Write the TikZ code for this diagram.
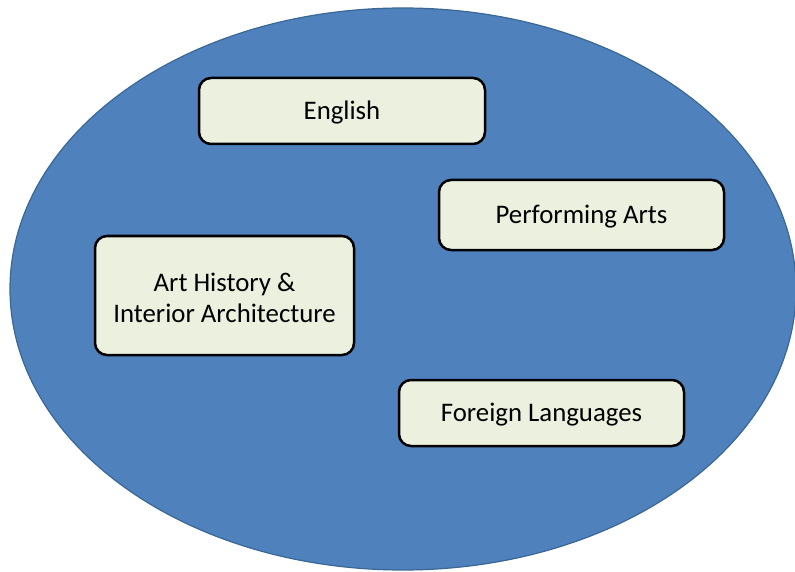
\documentclass[tikz,border=0pt]{standalone}
\usepackage{fontspec}
\setmainfont{Carlito}
\usetikzlibrary{shapes.geometric}
\definecolor{ellfill}{HTML}{4F81BD}
\definecolor{elldraw}{HTML}{3B6795}
\definecolor{boxfill}{HTML}{EBF1DE}
\begin{document}
\begin{tikzpicture}[x=1pt,y=-1pt,
  subject/.style={draw=black,line width=2.5pt,fill=boxfill,rounded corners=12pt,
    inner sep=0pt},
  subjtext/.style={inner sep=0pt,align=center,font=\fontsize{26.8}{31}\selectfont},
]
\useasboundingbox (0,0) rectangle (795,572);
\begin{scope}
\clip (0,0) rectangle (795,572);
\node[ellipse,draw=elldraw,line width=1.2pt,fill=ellfill,minimum width=786pt,minimum height=562pt,inner sep=0pt] (faculty) at (403,289) {};
\end{scope}
\node[subject,minimum width=286pt,minimum height=66pt] (eng) at (342,111) {};
\node[subject,minimum width=285pt,minimum height=70pt] (perf) at (581.5,215) {};
\node[subject,minimum width=259pt,minimum height=119pt] (art) at (224.5,295.5) {};
\node[subject,minimum width=285pt,minimum height=66pt] (lang) at (541.5,413) {};
\node[subjtext] (engt) at ([yshift=-2pt]eng.center) {English};
\node[subjtext] (perft) at ([yshift=-2pt]perf.center) {Performing Arts};
\node[subjtext] (artt) at ([yshift=-2pt]art.center) {Art History \&\\Interior Architecture};
\node[subjtext] (langt) at ([yshift=-2pt]lang.center) {Foreign Languages};
\end{tikzpicture}
\end{document}
